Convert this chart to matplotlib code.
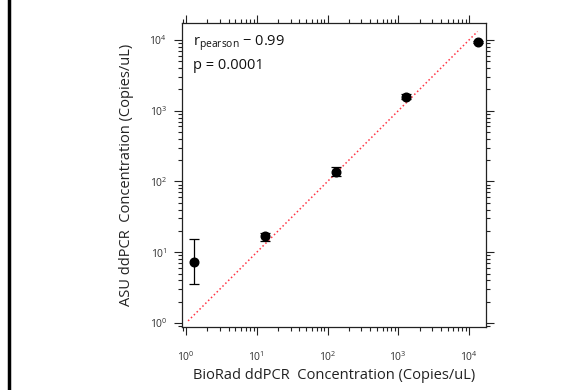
import numpy as np
import matplotlib.pyplot as plt
from matplotlib.ticker import LogLocator, NullFormatter

plt.rcParams['font.family'] = ['Open Sans', 'DejaVu Sans']
plt.rcParams['mathtext.default'] = 'regular'

# values
biorad = [1.3, 12.9, 130.0, 1306.0, 13200.0]      # x, copies/uL
asu = [7.3, 17.2, 137.0, 1560.0, 9400.0]          # y, copies/uL
asu_lo = [3.6, 14.6, 120.0, 1450.0, 9100.0]       # lower end of error bar
asu_hi = [15.4, 18.9, 160.0, 1700.0, 9700.0]      # upper end of error bar
fit_x = [1.07, 13200.0]                           # dotted y = x line
fit_y = [1.07, 13200.0]
r_pearson = "0.99"
p_value = "0.0001"

fig = plt.figure(figsize=(5.86, 3.9), dpi=100)
ax = fig.add_axes([182/586, 1-327/390, 304/586, 304/390])

x = np.array(biorad)
y = np.array(asu)
yerr = np.array([y - np.array(asu_lo), np.array(asu_hi) - y])

ax.plot(fit_x, fit_y, ':', color='#ff3344', lw=1.1)
ax.errorbar(x, y, yerr=yerr, fmt='o', color='black', ms=6.2,
            capsize=3.5, elinewidth=0.9, capthick=0.9)

ax.set_xscale('log')
ax.set_yscale('log')
lo, hi = 10**-0.057, 10**4.24
ax.set_xlim(lo, hi)
ax.set_ylim(lo, hi)

for a in (ax.xaxis, ax.yaxis):
    a.set_major_locator(LogLocator(base=10, numticks=10))
    a.set_minor_locator(LogLocator(base=10, subs=np.arange(2, 10), numticks=10))
    a.set_minor_formatter(NullFormatter())

ax.tick_params(which='both', direction='out', top=True, right=True,
               color='#222222', width=0.8, labelsize=7.5, labelcolor='#333333')
ax.tick_params(which='major', length=5.5)
ax.tick_params(which='minor', length=3)
ax.tick_params(axis='x', which='major', pad=11)
ax.tick_params(axis='y', which='major', pad=5)
for s in ax.spines.values():
    s.set_linewidth(0.9)
    s.set_color('#222222')

ax.set_xlabel('BioRad ddPCR  Concentration (Copies/uL)', fontsize=10.5,
              color='#222222', labelpad=3)
ax.set_ylabel('ASU ddPCR  Concentration (Copies/uL)', fontsize=10.5,
              color='#222222', labelpad=11)

ax.text(0.035, 0.965, r'r$_{pearson}$ $-$ ' + r_pearson, transform=ax.transAxes,
        fontsize=10.5, va='top', ha='left', color='#111111')
ax.text(0.035, 0.885, 'p = ' + p_value, transform=ax.transAxes,
        fontsize=10.5, va='top', ha='left', color='#111111')

# black frame line at the left edge of the crop
fig.add_artist(plt.Line2D([8.5/586, 8.5/586], [0, 1], color='black', lw=2.5,
                          transform=fig.transFigure))

fig.savefig('out.png', dpi=100)
